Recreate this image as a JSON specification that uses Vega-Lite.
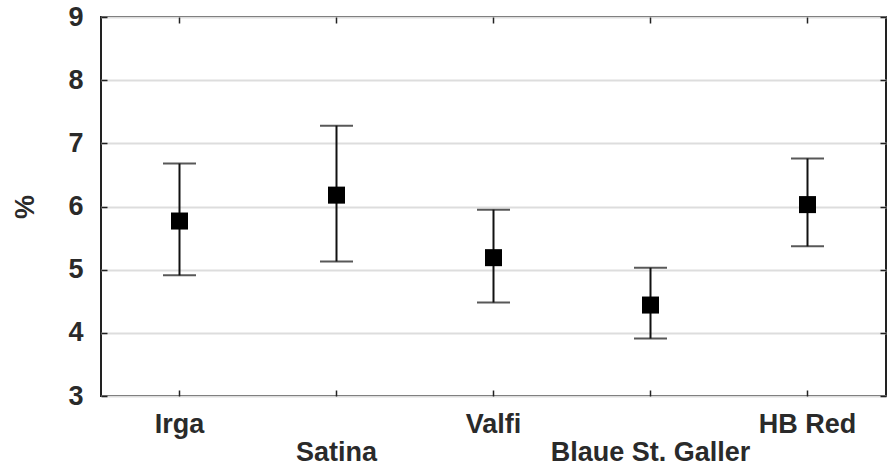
{
  "$schema": "https://vega.github.io/schema/vega-lite/v6.json",
  "autosize": "none",
  "width": 785,
  "height": 379,
  "padding": {"left": 101, "top": 17, "right": 1, "bottom": 70},
  "background": "white",
  "config": {
    "font": "Liberation Sans",
    "view": {"stroke": "#222", "strokeWidth": 2},
    "axis": {"labelFont": "Liberation Sans", "labelFontSize": 27, "labelFontWeight": "bold", "labelColor": "#2a2a2a", "labelLimit": 0, "titleFont": "Liberation Sans", "titleFontSize": 27, "titleColor": "#2a2a2a", "titleFontWeight": "bold"}
  },
  "data": {
    "values": [
      {"variety": "Irga", "mean": 5.77, "lower": 4.91, "upper": 6.68},
      {"variety": "Satina", "mean": 6.18, "lower": 5.13, "upper": 7.28},
      {"variety": "Valfi", "mean": 5.19, "lower": 4.48, "upper": 5.95},
      {"variety": "Blaue St. Galler", "mean": 4.44, "lower": 3.91, "upper": 5.03},
      {"variety": "HB Red", "mean": 6.03, "lower": 5.37, "upper": 6.76}
    ]
  },
  "resolve": {"axis": {"x": "independent", "y": "independent"}},
  "layer": [
    {
      "mark": {"type": "rule", "color": "#111", "strokeWidth": 2},
      "encoding": {
        "x": {"field": "variety", "type": "nominal", "sort": null,
          "scale": {"type": "band", "paddingInner": 0, "paddingOuter": 0},
          "axis": {"orient": "bottom", "title": null, "domain": false, "tickSize": -6, "tickColor": "#222", "tickWidth": 1.5, "labelAngle": 0, "labelPadding": 21, "labelLineHeight": 28, "labelBaseline": "top", "labelLimit": 0, "labelOverlap": false,
            "labelExpr": "(datum.value == 'Satina' || datum.value == 'Blaue St. Galler') ? ['', datum.label] : datum.label"}},
        "y": {"field": "lower", "type": "quantitative",
          "scale": {"domain": [3, 9], "nice": false, "zero": false},
          "axis": {"orient": "left", "title": "%", "values": [3,4,5,6,7,8,9], "domain": false, "grid": true, "gridColor": "#dddddd", "gridWidth": 2, "tickSize": -6, "tickColor": "#222", "tickWidth": 1.5, "labelPadding": 24, "titlePadding": 28}},
        "y2": {"field": "upper"}
      }
    },
    {
      "mark": {"type": "tick", "color": "#111", "size": 33, "thickness": 2},
      "encoding": {
        "x": {"field": "variety", "type": "nominal", "sort": null,
          "axis": {"orient": "top", "title": null, "labels": false, "domain": false, "tickSize": -6, "tickColor": "#222", "tickWidth": 1.5}},
        "y": {"field": "lower", "type": "quantitative",
          "axis": {"orient": "right", "title": null, "labels": false, "values": [3,4,5,6,7,8,9], "domain": false, "grid": false, "tickSize": -6, "tickColor": "#222", "tickWidth": 1.5}}
      }
    },
    {
      "mark": {"type": "tick", "color": "#111", "size": 33, "thickness": 2},
      "encoding": {
        "x": {"field": "variety", "type": "nominal", "sort": null, "axis": null},
        "y": {"field": "upper", "type": "quantitative", "axis": null}
      }
    },
    {
      "mark": {"type": "square", "color": "#000", "filled": true, "opacity": 1, "size": 290},
      "encoding": {
        "x": {"field": "variety", "type": "nominal", "sort": null, "axis": null},
        "y": {"field": "mean", "type": "quantitative", "axis": null}
      }
    }
  ]
}
